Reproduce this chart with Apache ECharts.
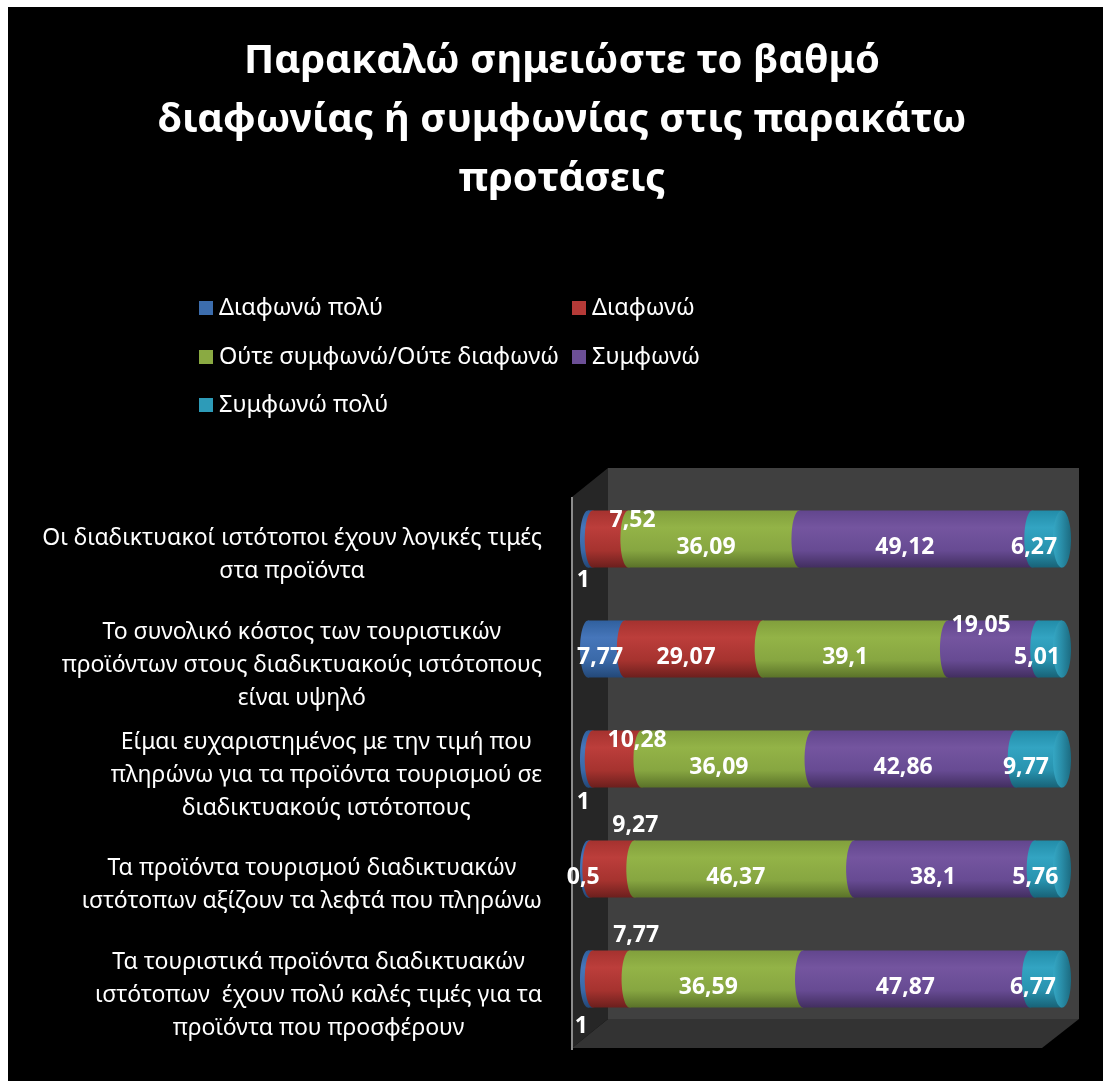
<!DOCTYPE html>
<html>
<head>
<meta charset="utf-8">
<script src="https://cdn.jsdelivr.net/npm/echarts@6/dist/echarts.min.js"></script>
<style>
html,body{margin:0;padding:0;background:#fff;overflow:hidden;}
#chart{position:absolute;left:0;top:0;width:1103px;height:1081px;}
</style>
</head>
<body>
<div id="chart"></div>
<script>
// ---------- data ----------
const titleText = 'Παρακαλώ σημειώστε το βαθμό\nδιαφωνίας ή συμφωνίας στις παρακάτω\nπροτάσεις';
const categories = [
  'Οι διαδικτυακοί ιστότοποι έχουν λογικές τιμές\nστα προϊόντα',
  'Το συνολικό κόστος των τουριστικών\nπροϊόντων στους διαδικτυακούς ιστότοπους\nείναι υψηλό',
  'Είμαι ευχαριστημένος με την τιμή που\nπληρώνω για τα προϊόντα τουρισμού σε\nδιαδικτυακούς ιστότοπους',
  'Τα προϊόντα τουρισμού διαδικτυακών\nιστότοπων αξίζουν τα λεφτά που πληρώνω',
  'Τα τουριστικά προϊόντα διαδικτυακών\nιστότοπων  έχουν πολύ καλές τιμές για τα\nπροϊόντα που προσφέρουν'
];
const seriesNames = ['Διαφωνώ πολύ', 'Διαφωνώ', 'Ούτε συμφωνώ/Ούτε διαφωνώ', 'Συμφωνώ', 'Συμφωνώ πολύ'];
const diafonoPoly = [1, 7.77, 1, 0.5, 1];
const diafono     = [7.52, 29.07, 10.28, 9.27, 7.77];
const oute        = [36.09, 39.1, 36.09, 46.37, 36.59];
const symfono     = [49.12, 19.05, 42.86, 38.1, 47.87];
const symfonoPoly = [6.27, 5.01, 9.77, 5.76, 6.77];
const seriesValues = [diafonoPoly, diafono, oute, symfono, symfonoPoly];

// ---------- styles ----------
const FONT = '"Noto Sans", "DejaVu Sans", sans-serif';
const shades = [
  ['#30609E', '#4676BA', '#3A69A8', '#234878'],
  ['#A5322F', '#BC3E3B', '#A6332F', '#6C1F1D'],
  ['#819F3C', '#93B347', '#87A641', '#5A7229'],
  ['#62468E', '#74559F', '#674B93', '#422E60'],
  ['#228CA8', '#33A4C2', '#2893AF', '#186277']
];
const legendColors = ['#3C6DAD', '#B53A37', '#8AAA42', '#6C4F96', '#2D9BB8'];
// label placement overrides: key "series,category" -> [dx, dy]
const labelOverride = {
  '0,0': [-7, 41], '1,0': [22, -19],
  '3,1': [-12, -24],
  '0,2': [-7, 43], '1,2': [20, -19],
  '1,3': [23, -44],
  '0,4': [-9, 47], '1,4': [25, -44]
};
const legendPos = [[199, 296], [572, 296], [199, 345], [572, 345], [199, 393]];

function vgrad(s) {
  const c = shades[s];
  return new echarts.graphic.LinearGradient(0, 0, 0, 1, [
    {offset: 0, color: c[0]}, {offset: 0.3, color: c[1]},
    {offset: 0.7, color: c[2]}, {offset: 1, color: c[3]}
  ]);
}

function buildData(s) {
  return categories.map((c, i) => {
    let start = 0;
    for (let k = 0; k < s; k++) start += seriesValues[k][i];
    const v = seriesValues[s][i];
    return [start, start + v, i, v];
  });
}

function makeRender(s) {
  return function (params, api) {
    const start = api.value(0), end = api.value(1), cat = api.value(2), v = api.value(3);
    const p0 = api.coord([start, cat]);
    const p1 = api.coord([end, cat]);
    const origin = api.coord([0, cat]);
    const band = api.size([0, 1])[1];
    const h = band * 0.52, rx = 8;
    const cy = p0[1];
    const children = [];
    children.push({
      type: 'rect',
      shape: {x: p0[0], y: cy - h / 2, width: Math.max(p1[0] - p0[0], 0.1), height: h},
      style: {fill: vgrad(s)}
    });
    children.push({
      type: 'ellipse',
      shape: {cx: p0[0], cy: cy, rx: rx, ry: h / 2},
      style: {fill: vgrad(s)}
    });
    if (s === seriesValues.length - 1) {
      children.push({
        type: 'ellipse',
        shape: {cx: p1[0], cy: cy, rx: rx + 1, ry: h / 2},
        style: {fill: new echarts.graphic.LinearGradient(0, 0, 1, 0, [
          {offset: 0, color: '#35A7C4'}, {offset: 0.45, color: '#2A8FAA'}, {offset: 1, color: '#1C6B81'}
        ])}
      });
    }
    const cx = (p0[0] + p1[0]) / 2;
    const key = s + ',' + params.dataIndex;
    let dx = -6 - 0.0153 * (cx - origin[0]);
    let dy = 8;
    if (labelOverride[key]) { dx = labelOverride[key][0]; dy = labelOverride[key][1]; }
    children.push({
      type: 'text',
      z2: 10,
      style: {
        x: cx + dx, y: cy + dy,
        text: String(v).replace('.', ','),
        fill: '#ffffff',
        font: 'bold 23px ' + FONT,
        align: 'center', verticalAlign: 'middle'
      }
    });
    return {type: 'group', children: children};
  };
}

const chart = echarts.init(document.getElementById('chart'), null, {renderer: 'canvas'});

const legends = seriesNames.map((n, i) => ({
  data: [n],
  left: legendPos[i][0], top: legendPos[i][1],
  padding: 0, itemGap: 0,
  icon: 'rect', itemWidth: 14, itemHeight: 14,
  textStyle: {color: '#ffffff', fontSize: 23.5, fontFamily: FONT, padding: [0, 0, 0, 1]},
  selectedMode: false
}));

const option = {
  backgroundColor: '#000000',
  animation: false,
  title: {
    text: titleText,
    left: 562, top: 32,
    textAlign: 'center',
    padding: 0,
    textStyle: {color: '#ffffff', fontSize: 40, fontWeight: 'bold', fontFamily: FONT, lineHeight: 59}
  },
  legend: legends,
  grid: {left: 588, top: 484, width: 474, height: 550, containLabel: false},
  xAxis: {type: 'value', min: 0, max: 100, show: false},
  yAxis: {
    type: 'category', data: categories, inverse: true,
    axisLine: {show: false}, axisTick: {show: false}, splitLine: {show: false},
    axisLabel: {
      interval: 0, margin: 46, align: 'right',
      formatter: function (val) {
        return '{sp| }\n' + val.split('\n').map(l => '{c|' + l + '}').join('\n');
      },
      rich: {
        sp: {lineHeight: 32, fontSize: 10, color: '#fff'},
        c: {align: 'center', color: '#ffffff', fontSize: 23, lineHeight: 33, fontFamily: FONT}
      }
    }
  },
  graphic: [
    {type: 'rect', z: -5, shape: {x: 608, y: 468, width: 471, height: 551}, style: {fill: '#404040'}},
    {type: 'polygon', z: -4, shape: {points: [[572, 497], [608, 468], [608, 1019], [572, 1048]]}, style: {fill: '#262626'}},
    {type: 'polygon', z: -4, shape: {points: [[572, 1048], [608, 1019], [1079, 1019], [1042, 1048]]}, style: {fill: '#333333'}},
    {type: 'line', z: -3, shape: {x1: 572, y1: 497, x2: 572, y2: 1050}, style: {stroke: '#8c8c8c', lineWidth: 2}},
    {type: 'rect', z: 50, shape: {x: 0, y: 0, width: 1103, height: 7}, style: {fill: '#ffffff'}},
    {type: 'rect', z: 50, shape: {x: 0, y: 0, width: 8, height: 1081}, style: {fill: '#ffffff'}}
  ],
  series: seriesNames.map((n, s) => ({
    type: 'custom',
    name: n,
    z: 3,
    itemStyle: {color: legendColors[s]},
    encode: {x: [0, 1], y: 2},
    data: buildData(s),
    renderItem: makeRender(s)
  }))
};
chart.setOption(option);
</script>
</body>
</html>
